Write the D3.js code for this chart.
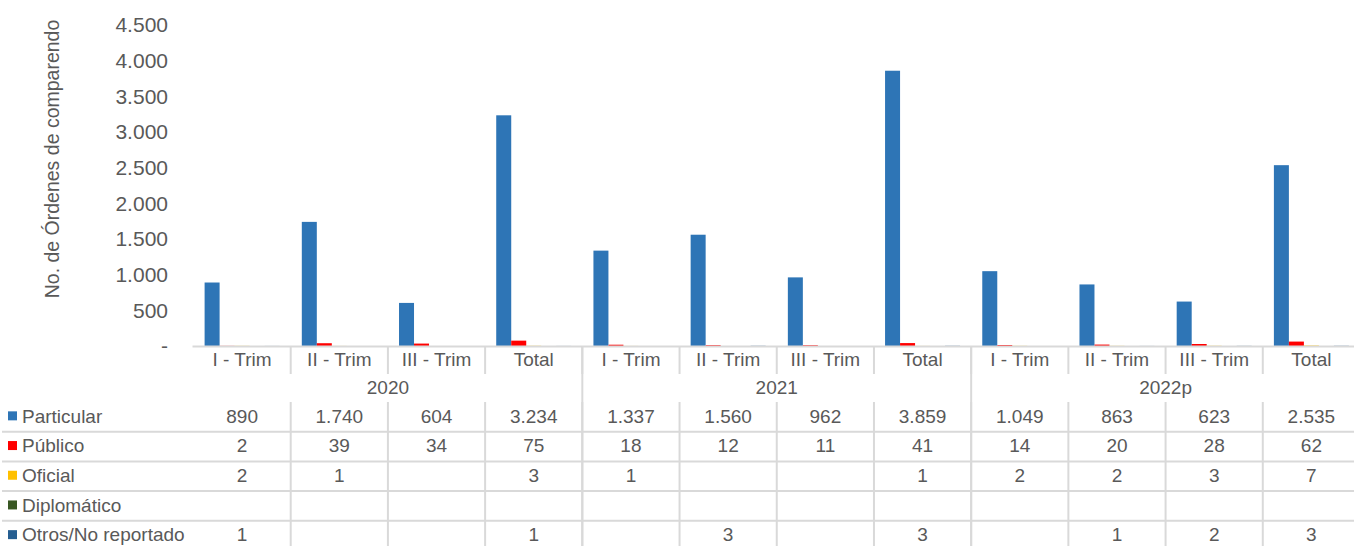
<!DOCTYPE html>
<html>
<head>
<meta charset="utf-8">
<script src="https://cdn.jsdelivr.net/npm/d3@7"></script>
<style>
  body { margin: 0; background: #fff; }
  svg text { font-family: "Liberation Sans", Arial, sans-serif; fill: #595959; }
</style>
</head>
<body>
<div id="chart"></div>
<script>
// Data
var periods = ["I - Trim", "II - Trim", "III - Trim", "Total",
               "I - Trim", "II - Trim", "III - Trim", "Total",
               "I - Trim", "II - Trim", "III - Trim", "Total"];
var years = ["2020", "2021", "2022p"];
var seriesNames = ["Particular", "Público", "Oficial", "Diplomático", "Otros/No reportado"];
var seriesColors = ["#2E75B6", "#FF0000", "#FFC000", "#385723", "#255E91"];
var particular = [890, 1740, 604, 3234, 1337, 1560, 962, 3859, 1049, 863, 623, 2535];
var publico = [2, 39, 34, 75, 18, 12, 11, 41, 14, 20, 28, 62];
var oficial = [2, 1, null, 3, 1, null, null, 1, 2, 2, 3, 7];
var diplomatico = [null, null, null, null, null, null, null, null, null, null, null, null];
var otros = [1, null, null, 1, null, 3, null, 3, null, 1, 2, 3];
var yTicks = [0, 500, 1000, 1500, 2000, 2500, 3000, 3500, 4000, 4500];

var seriesValues = [particular, publico, oficial, diplomatico, otros];

var svgWidth = 1354, svgHeight = 546;
// the category band runs slightly past the right edge of the picture
var plotLeft = 193.5, plotRight = 1360, plotTop = 25, plotBottom = 346;
var gridColor = "#d9d9d9";

var svg = d3.select("#chart").append("svg")
    .attr("width", svgWidth)
    .attr("height", svgHeight);

var fmt = function(v) {
    if (v === null || v === undefined) return "";
    return d3.format(",")(v).replace(/,/g, ".");
};

var xCat = d3.scaleBand()
    .domain(d3.range(periods.length))
    .range([plotLeft, plotRight])
    .padding(0);

var xSub = d3.scaleBand()
    .domain(d3.range(seriesNames.length))
    .range([0, xCat.bandwidth()])
    .paddingInner(0)
    .paddingOuter(0.74);

var y = d3.scaleLinear()
    .domain([0, 4500])
    .range([plotBottom, plotTop]);

// y axis labels
var yAxis = d3.axisLeft(y)
    .tickValues(yTicks)
    .tickSize(0)
    .tickPadding(0)
    .tickFormat(d => d === 0 ? "-  " : fmt(d));
var yG = svg.append("g")
    .attr("transform", "translate(168,0)")
    .call(yAxis);
yG.select(".domain").remove();
yG.selectAll("text")
    .style("font-size", "21px")
    .attr("fill", "#595959");

svg.append("text")
    .attr("transform", "translate(59,159) rotate(-90)")
    .attr("text-anchor", "middle")
    .style("font-size", "19.5px")
    .text("No. de Órdenes de comparendo");

// bars
var barData = [];
seriesValues.forEach((vals, s) => {
    vals.forEach((v, i) => {
        if (v !== null) barData.push({ s: s, i: i, v: v });
    });
});
svg.append("g").selectAll("rect")
    .data(barData)
    .enter()
    .append("rect")
    .attr("x", d => xCat(d.i) + xSub(d.s))
    .attr("width", xSub.bandwidth())
    .attr("y", d => y(d.v))
    .attr("height", d => y(0) - y(d.v))
    .attr("fill", d => seriesColors[d.s]);

// baseline
svg.append("line")
    .attr("x1", plotLeft - 1).attr("x2", svgWidth)
    .attr("y1", y(0) + 0.5).attr("y2", y(0) + 0.5)
    .attr("stroke", gridColor).attr("stroke-width", 2);

// table
var catRowY = 359, yearRowY = 387, dataTop = 402, rowH = 29.7;
var tableBottom = 546;

// category labels
svg.append("g").selectAll("text")
    .data(periods)
    .enter()
    .append("text")
    .attr("x", (d, i) => xCat(i) + xCat.bandwidth() / 2)
    .attr("y", catRowY)
    .attr("dy", "0.35em")
    .attr("text-anchor", "middle")
    .style("font-size", "19px")
    .text(d => d);

// vertical lines in category row
svg.append("g").selectAll("line")
    .data(d3.range(1, periods.length))
    .enter()
    .append("line")
    .attr("x1", i => xCat(i)).attr("x2", i => xCat(i))
    .attr("y1", plotBottom).attr("y2", 374)
    .attr("stroke", gridColor).attr("stroke-width", 2);

// year labels and year boundaries
var perYear = periods.length / years.length;
svg.append("g").selectAll("text")
    .data(years)
    .enter()
    .append("text")
    .attr("x", (d, k) => xCat(k * perYear) + perYear * xCat.bandwidth() / 2)
    .attr("y", yearRowY)
    .attr("dy", "0.35em")
    .attr("text-anchor", "middle")
    .style("font-size", "19px")
    .text(d => d);

svg.append("g").selectAll("line")
    .data(d3.range(1, years.length))
    .enter()
    .append("line")
    .attr("x1", k => xCat(k * perYear)).attr("x2", k => xCat(k * perYear))
    .attr("y1", plotBottom).attr("y2", tableBottom)
    .attr("stroke", gridColor).attr("stroke-width", 2);

// vertical lines in data rows
svg.append("g").selectAll("line")
    .data(d3.range(1, periods.length))
    .enter()
    .append("line")
    .attr("x1", i => xCat(i)).attr("x2", i => xCat(i))
    .attr("y1", dataTop).attr("y2", tableBottom)
    .attr("stroke", gridColor).attr("stroke-width", 2);

// horizontal lines between data rows
svg.append("g").selectAll("line")
    .data(d3.range(1, seriesNames.length))
    .enter()
    .append("line")
    .attr("x1", 2).attr("x2", svgWidth)
    .attr("y1", r => dataTop + r * rowH).attr("y2", r => dataTop + r * rowH)
    .attr("stroke", gridColor).attr("stroke-width", 2);

// legend keys and values
seriesNames.forEach((name, s) => {
    var cy = dataTop + s * rowH + rowH / 2 - 1;
    svg.append("rect")
        .attr("x", 8).attr("y", cy - 4.5)
        .attr("width", 9).attr("height", 9)
        .attr("fill", seriesColors[s]);
    svg.append("text")
        .attr("x", 22).attr("y", cy)
        .attr("dy", "0.35em")
        .style("font-size", "19px")
        .text(name);
    svg.append("g").selectAll("text")
        .data(seriesValues[s])
        .enter()
        .append("text")
        .attr("x", (d, i) => xCat(i) + xCat.bandwidth() / 2)
        .attr("y", cy)
        .attr("dy", "0.35em")
        .attr("text-anchor", "middle")
        .style("font-size", "19px")
        .text(d => fmt(d));
});
</script>
</body>
</html>
